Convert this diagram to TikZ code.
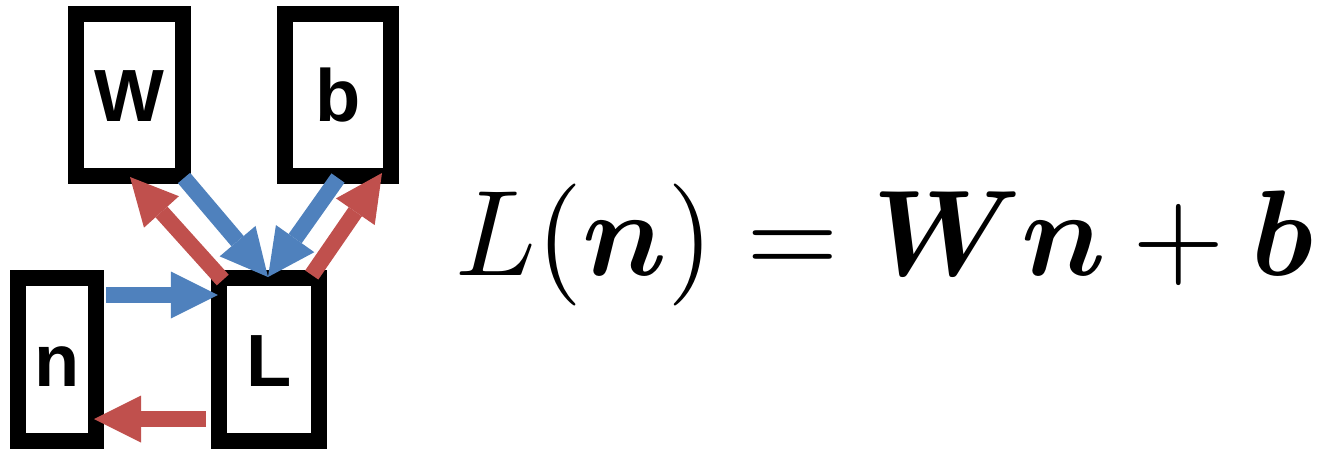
\documentclass[tikz,border=0pt]{standalone}
\usepackage{graphicx}
\usepackage{amsmath,amsbsy}
\usepackage{fontspec}
\setmainfont{Liberation Sans}
\usetikzlibrary{arrows.meta,calc}
\definecolor{fwdblue}{RGB}{79,129,189}
\definecolor{bwdred}{RGB}{192,80,77}
\begin{document}
\begin{tikzpicture}[x=1pt,y=-1pt,
  varbox/.style={draw=black,line width=16pt,inner sep=0pt,outer sep=0pt,text height=54pt,text depth=0pt,
    font=\fontsize{74}{80}\selectfont\bfseries},
  fwd/.style={draw=fwdblue,line width=16pt,-{Triangle[length=47pt,width=47pt,line width=0pt]}},
  bwd/.style={draw=bwdred,line width=16pt,-{Triangle[length=47pt,width=47pt,line width=0pt]}}]
\useasboundingbox (0,0) rectangle (1320,449);
\node[varbox,minimum width=107pt,minimum height=162pt] (W) at (129.5,95) {W};
\node[varbox,minimum width=106pt,minimum height=162pt] (b) at (338,95) {b};
\node[varbox,minimum width=78pt,minimum height=163pt] (n) at (57,359.5) {n};
\node[varbox,minimum width=99.5pt,minimum height=163pt] (L) at (269,359.5) {L};
% forward (blue)
\draw[fwd] ($(n.north east)+(10,17)$) -- ($(L.north west)+(-1.5,17)$);
\draw[fwd] ($(W.south east)+(1,2)$) -- ($(L.north)+(-1,-1)$);
\draw[fwd] ($(b.south)+(0,2)$) -- ($(L.north)+(-1,-1)$);
% backward (red)
\draw[bwd] ($(L.north west)+(3.5,2)$) -- ($(W.south)+(0.5,1)$);
\draw[bwd] ($(L.north east)+(-7,-3)$) -- ($(b.south east)+(-9,-3)$);
\draw[bwd] ($(L.south west)+(-13.5,-22)$) -- ($(n.south east)+(-2,-22)$);
% equation
\node[anchor=base west,inner sep=0pt] (eq) at (455,275)
  {\scalebox{11.9}[12.2]{$L(\boldsymbol{n})=\boldsymbol{W}\boldsymbol{n}+\boldsymbol{b}$}};
\end{tikzpicture}
\end{document}
